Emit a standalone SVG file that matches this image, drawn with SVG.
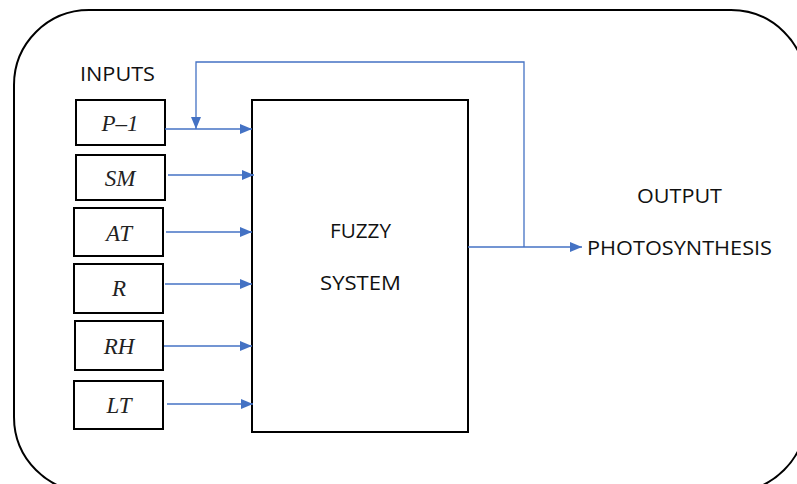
<svg xmlns="http://www.w3.org/2000/svg" width="797" height="484" viewBox="0 0 797 484">
<style>
.box{fill:#fff;stroke:#000;stroke-width:2}
.lbl{font-family:"Liberation Serif",serif;font-style:italic;font-size:23px;fill:#222;text-anchor:middle}
.txt{font-family:"Open Sans","Liberation Sans",sans-serif;font-size:20.5px;fill:#111}
.ln{fill:none;stroke:#4472C4;stroke-width:1.3}
</style>
<defs>
<marker id="ah" viewBox="0 0 12 10" refX="12" refY="5" markerWidth="12" markerHeight="10" markerUnits="userSpaceOnUse" orient="auto">
<path d="M0,0 L12,5 L0,10 Z" fill="#4472C4"/>
</marker>
</defs>
<rect x="14" y="10" width="792" height="482" rx="75" ry="75" fill="#fff" stroke="#000" stroke-width="2"/>
<text class="txt" x="80" y="81" textLength="75" lengthAdjust="spacingAndGlyphs">INPUTS</text>
<g id="fuzzy">
<rect class="box" x="252" y="100" width="216" height="332"/>
<text class="txt" x="330" y="238" textLength="61" lengthAdjust="spacingAndGlyphs">FUZZY</text>
<text class="txt" x="320" y="290" textLength="81" lengthAdjust="spacingAndGlyphs">SYSTEM</text>
</g>
<g id="p1"><rect class="box" x="76" y="100" width="89" height="45"/><text class="lbl" x="120" y="131">P–1</text></g>
<g id="sm"><rect class="box" x="76" y="155" width="89" height="45"/><text class="lbl" x="120" y="186">SM</text></g>
<g id="at"><rect class="box" x="74" y="208" width="89" height="48"/><text class="lbl" x="119" y="241">AT</text></g>
<g id="r"><rect class="box" x="74" y="264" width="89" height="49"/><text class="lbl" x="119" y="296">R</text></g>
<g id="rh"><rect class="box" x="75" y="321" width="88" height="49"/><text class="lbl" x="119" y="354">RH</text></g>
<g id="lt"><rect class="box" x="74" y="381" width="89" height="48"/><text class="lbl" x="119" y="413">LT</text></g>
<g id="output">
<text class="txt" x="637" y="203" textLength="85" lengthAdjust="spacingAndGlyphs">OUTPUT</text>
<text class="txt" x="587" y="255" textLength="185" lengthAdjust="spacingAndGlyphs">PHOTOSYNTHESIS</text>
</g>
<g id="connectors">
<line class="ln" x1="165" y1="129" x2="252" y2="129" marker-end="url(#ah)"/>
<line class="ln" x1="168" y1="175" x2="254" y2="175" marker-end="url(#ah)"/>
<line class="ln" x1="166" y1="232" x2="252" y2="232" marker-end="url(#ah)"/>
<line class="ln" x1="165" y1="284" x2="252" y2="284" marker-end="url(#ah)"/>
<line class="ln" x1="164" y1="346" x2="252" y2="346" marker-end="url(#ah)"/>
<line class="ln" x1="167" y1="404" x2="253" y2="404" marker-end="url(#ah)"/>
<line class="ln" x1="468" y1="247" x2="582" y2="247" marker-end="url(#ah)"/>
<polyline class="ln" points="524,247 524,62 196,62 196,129" marker-end="url(#ah)"/>
</g>
</svg>
